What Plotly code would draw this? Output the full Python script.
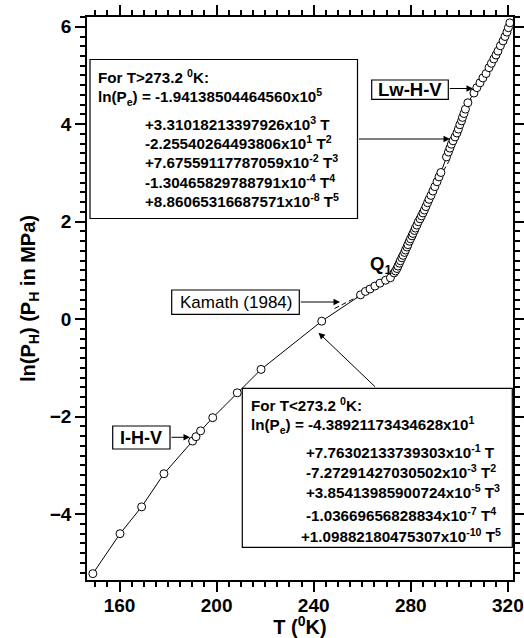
import plotly.graph_objects as go

# ---------------------------------------------------------------------------
# Hydrate equilibrium data: T in K, ln(P) with P in MPa
# ---------------------------------------------------------------------------
# I-H-V branch and the low end of the Lw-H-V branch (up to Q1)
T_low = [149.0, 160.2, 169.1, 178.3, 190.1, 191.5, 193.4, 198.4, 208.5,
         218.3, 243.3, 259.3, 261.3, 263.2, 265.2, 267.3, 269.6, 271.6]
lnP_low = [-5.22, -4.40, -3.85, -3.17, -2.50, -2.41, -2.29, -2.02, -1.51,
           -1.03, -0.04, 0.50, 0.57, 0.62, 0.68, 0.74, 0.80, 0.85]

# Lw-H-V branch above the quadruple point Q1
T_up = [273.1, 273.7, 274.3, 274.7, 275.3, 275.7, 276.3, 276.8, 277.4, 277.8,
        278.4, 278.8, 279.4, 279.9, 280.5, 280.9, 281.5, 281.9, 282.5, 283.1,
        283.8, 284.4, 285.0, 285.6, 286.2, 286.9, 287.5, 288.3, 289.1, 289.9,
        290.8, 291.6, 292.4, 294.7, 295.5, 296.1, 296.7, 297.4, 298.2, 299.0,
        299.6, 300.2, 300.9, 301.3, 301.9, 302.5, 303.5, 306.0, 307.2, 308.5,
        309.7, 311.0, 312.2, 313.2, 314.2, 315.1, 315.9, 316.9, 318.0, 318.8,
        319.6, 320.2, 320.8]
lnP_up = [0.95, 0.99, 1.04, 1.09, 1.15, 1.20, 1.26, 1.31, 1.37, 1.42,
          1.48, 1.53, 1.60, 1.65, 1.71, 1.76, 1.82, 1.87, 1.93, 2.00,
          2.06, 2.12, 2.18, 2.24, 2.31, 2.39, 2.46, 2.54, 2.63, 2.72,
          2.82, 2.92, 3.01, 3.33, 3.43, 3.51, 3.59, 3.66, 3.74, 3.82,
          3.90, 3.99, 4.07, 4.14, 4.22, 4.31, 4.44, 4.64, 4.75, 4.85,
          4.95, 5.04, 5.16, 5.25, 5.34, 5.42, 5.50, 5.61, 5.71, 5.80,
          5.89, 5.98, 6.08]

# Fitted curves (I-H-V fit below 273.2 K, Lw-H-V fit above)
fit_T = [149.0, 160.2, 169.1, 178.3, 190.1, 191.5, 193.4, 198.4, 208.5,
         218.3, 243.3, 259.3, 263.2, 267.3, 271.6, 273.2, 276.3, 279.4,
         282.5, 285.6, 288.3, 290.8, 293.2, 295.5, 298.2, 300.9, 303.5,
         306.0, 308.5, 311.0, 313.2, 315.1, 316.9, 318.8, 320.8]
fit_lnP = [-5.22, -4.40, -3.85, -3.17, -2.50, -2.41, -2.29, -2.02, -1.51,
           -1.03, -0.04, 0.50, 0.62, 0.74, 0.85, 0.92, 1.26, 1.60,
           1.93, 2.24, 2.54, 2.82, 3.12, 3.43, 3.74, 4.07, 4.44,
           4.64, 4.85, 5.04, 5.25, 5.42, 5.61, 5.80, 6.08]

# Kamath (1984) correlation
kam_T = [248.6, 258.0, 272.8, 283.0, 288.0, 292.5, 295.7, 298.5, 301.5,
         305.0, 309.0, 313.0, 317.0, 321.0]
kam_lnP = [0.22, 0.46, 0.87, 1.90, 2.46, 2.96, 3.24, 3.70, 4.12,
           4.52, 4.86, 5.21, 5.58, 6.05]

# Axis settings
x_range = [146.6, 322.1]
y_range = [-5.35, 6.20]

# Fit equations shown in the two boxes
eq_high = [
    "For T&gt;273.2 <sup>0</sup>K:",
    "ln(P<sub>e</sub>) = -1.94138504464560x10<sup>5</sup>",
    "+3.31018213397926x10<sup>3</sup> T",
    "-2.25540264493806x10<sup>1</sup> T<sup>2</sup>",
    "+7.67559117787059x10<sup>-2</sup> T<sup>3</sup>",
    "-1.30465829788791x10<sup>-4</sup> T<sup>4</sup>",
    "+8.86065316687571x10<sup>-8</sup> T<sup>5</sup>",
]
eq_low = [
    "For T&lt;273.2 <sup>0</sup>K:",
    "ln(P<sub>e</sub>) = -4.38921173434628x10<sup>1</sup>",
    "+7.76302133739303x10<sup>-1</sup> T",
    "-7.27291427030502x10<sup>-3</sup> T<sup>2</sup>",
    "+3.85413985900724x10<sup>-5</sup> T<sup>3</sup>",
    "-1.03669656828834x10<sup>-7</sup> T<sup>4</sup>",
    "+1.09882180475307x10<sup>-10</sup> T<sup>5</sup>",
]

# ---------------------------------------------------------------------------
W, H = 524, 638
ML, MR, MT, MB = 87, 11, 17, 58
PW, PH = W - ML - MR, H - MT - MB
FONT = "Liberation Sans, Arial, Helvetica, sans-serif"
INK = "black"
TICK_W = 1.5


def fx(px):
    """Page pixel x -> paper x."""
    return (px - ML) / PW


def fy(py):
    """Page pixel y -> paper y."""
    return (H - MB - py) / PH


fig = go.Figure()

fig.add_trace(go.Scatter(x=kam_T, y=kam_lnP, mode="lines",
                         line=dict(color=INK, width=1, dash="5px,3px"),
                         hoverinfo="skip"))
fig.add_trace(go.Scatter(x=fit_T, y=fit_lnP, mode="lines",
                         line=dict(color=INK, width=1),
                         hoverinfo="skip"))
marker = dict(symbol="circle", size=8, color="white",
              line=dict(color=INK, width=1))
fig.add_trace(go.Scatter(x=T_low, y=lnP_low, mode="markers", marker=marker))
fig.add_trace(go.Scatter(x=T_up, y=lnP_up, mode="markers", marker=marker))

tick_font = dict(family=FONT, size=19, color=INK, weight="bold")
title_font = dict(family=FONT, size=20, color=INK, weight="bold")

fig.update_xaxes(
    range=x_range, tickmode="linear", tick0=160, dtick=40,
    ticks="outside", ticklen=10, tickwidth=TICK_W, tickcolor=INK,
    showline=True, linecolor=INK, linewidth=1.5, mirror="ticks",
    showgrid=False, zeroline=False, tickfont=tick_font,
    ticklabelstandoff=-3,
    minor=dict(tick0=160, dtick=5, ticklen=5, ticks="outside",
               tickcolor=INK, tickwidth=TICK_W),
    title=dict(text="T (<sup>0</sup>K)", standoff=15, font=title_font),
)
fig.update_yaxes(
    range=y_range, tickmode="linear", tick0=0, dtick=2,
    ticks="outside", ticklen=10, tickwidth=TICK_W, tickcolor=INK,
    showline=True, linecolor=INK, linewidth=1.5, mirror="ticks",
    showgrid=False, zeroline=False, tickfont=tick_font,
    minor=dict(tick0=0, dtick=0.2, ticklen=5, ticks="outside",
               tickcolor=INK, tickwidth=TICK_W),
    title=dict(text="ln(P<sub>H</sub>) (P<sub>H</sub> in MPa)",
               standoff=9, font=title_font),
)

shapes = []
annotations = []


def box(x0, y0, x1, y1):
    shapes.append(dict(type="rect", xref="paper", yref="paper",
                       x0=fx(x0), x1=fx(x1), y0=fy(y1), y1=fy(y0),
                       line=dict(color=INK, width=1.2),
                       fillcolor="white", layer="above"))


def label(text, x, y, size, bold=True, xanchor="left"):
    annotations.append(dict(text=text, xref="paper", yref="paper",
                            x=fx(x), y=fy(y), xanchor=xanchor,
                            yanchor="middle", showarrow=False,
                            borderpad=0, borderwidth=0,
                            font=dict(family=FONT, size=size, color=INK,
                                      weight="bold" if bold else "normal")))


def arrow(tail, tip):
    annotations.append(dict(text="", xref="paper", yref="paper",
                            x=fx(tip[0]), y=fy(tip[1]),
                            ax=tail[0] - tip[0], ay=tail[1] - tip[1],
                            showarrow=True, arrowhead=2, arrowsize=1.3,
                            arrowwidth=1, arrowcolor=INK, standoff=0))


EQ_SIZE = 15.2

# equation box for T > 273.2 K
box(90, 59.5, 357.5, 218.5)
ys_high = [76, 97, 124, 142.5, 162, 181.5, 200.5]
xs_high = [97.7, 97.7, 145, 145, 145, 145, 145]
for text, x, y in zip(eq_high, xs_high, ys_high):
    label(text, x, y, EQ_SIZE)
arrow((357.5, 139), (450, 139))

# equation box for T < 273.2 K
box(242.3, 388.3, 512.3, 547.3)
ys_low = [404, 425.5, 451, 471, 491.5, 514.5, 535]
xs_low = [251, 251, 305.5, 305.5, 305.5, 305.5, 301]
for text, x, y in zip(eq_low, xs_low, ys_low):
    label(text, x, y, EQ_SIZE)
arrow((376.7, 388.3), (318.5, 332.7))

# phase-region labels
box(371.7, 80, 448.3, 99.3)
label("Lw-H-V", 410, 89.8, 18.5, xanchor="center")
arrow((448.3, 88.5), (473, 88.5))

box(112.7, 426, 170, 449)
label("I-H-V", 141.3, 437.6, 18, xanchor="center")
arrow((170, 437.3), (190, 437.3))

box(171.7, 290, 299.3, 314.3)
label("Kamath (1984)", 235.5, 302.3, 17, bold=False, xanchor="center")
arrow((299.3, 302), (340, 302))

label("Q<sub>1</sub>", 369.5, 265, 18.5)

fig.update_layout(
    width=W, height=H,
    margin=dict(l=ML, r=MR, t=MT, b=MB, autoexpand=False),
    paper_bgcolor="white", plot_bgcolor="white",
    showlegend=False, hovermode=False,
    shapes=shapes, annotations=annotations,
    font=dict(family=FONT, color=INK),
)

fig.write_html("out.html", config={"displayModeBar": False})
